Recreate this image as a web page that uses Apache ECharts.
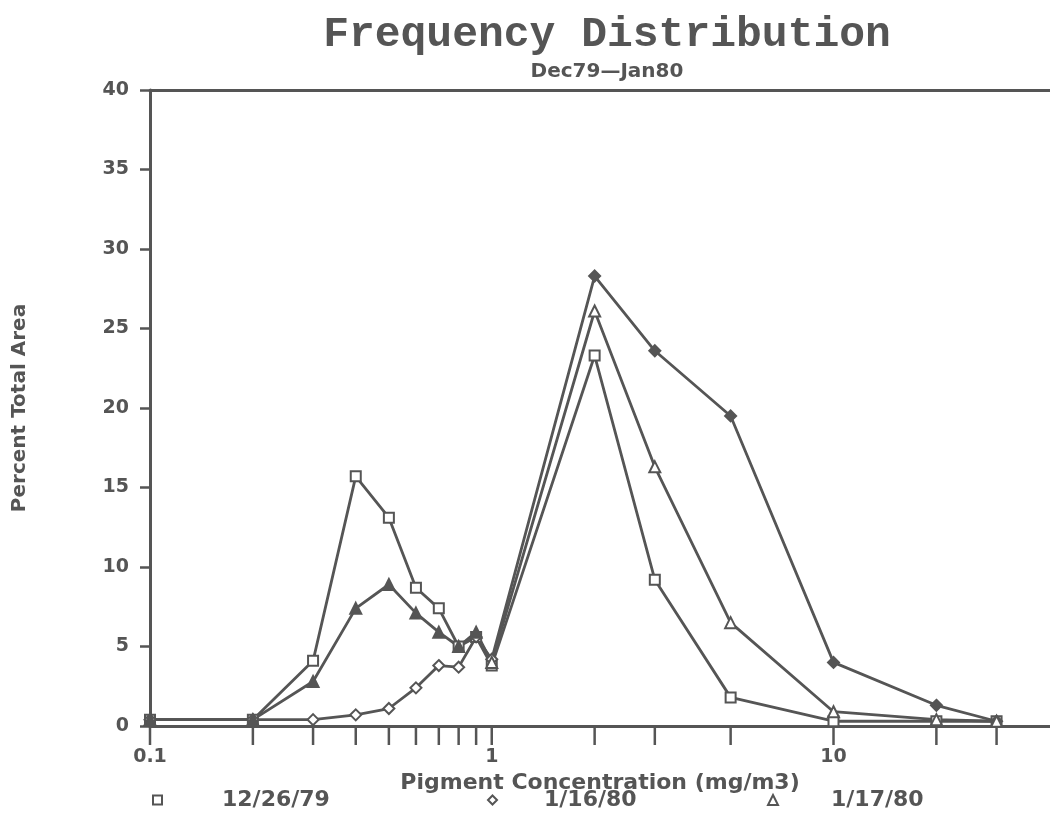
<!DOCTYPE html>
<html>
<head>
<meta charset="utf-8">
<script src="https://cdn.jsdelivr.net/npm/echarts@6/dist/echarts.min.js"></script>
<style>
  html, body { margin: 0; padding: 0; background: #ffffff; }
  #chart { width: 1050px; height: 836px; }
</style>
</head>
<body>
<div id="chart"></div>
<script>
// Pigment concentration bins (mg/m3) and percent of total area per survey date
const concentrations = [0.1, 0.2, 0.3, 0.4, 0.5, 0.6, 0.7, 0.8, 0.9, 1, 2, 3, 5, 10, 20, 30];
const dec26 = [0.4, 0.4, 4.1, 15.7, 13.1, 8.7, 7.4, 5.0, 5.6, 3.8, 23.3, 9.2, 1.8, 0.3, 0.3, 0.3];
const jan16 = [0.4, 0.4, 0.4, 0.7, 1.1, 2.4, 3.8, 3.7, 5.6, 4.2, 28.3, 23.6, 19.5, 4.0, 1.3, 0.3];
const jan17 = [0.4, 0.4, 2.8, 7.4, 8.9, 7.1, 5.9, 5.0, 5.9, 4.0, 26.1, 16.3, 6.5, 0.9, 0.4, 0.3];
const seriesNames = ['12/26/79', '1/16/80', '1/17/80'];

// Axis ticks
const xTickValues = [0.1, 0.2, 0.3, 0.4, 0.5, 0.6, 0.7, 0.8, 0.9, 1, 2, 3, 5, 10, 20, 30];
const xLabelValues = [0.1, 1, 10];
const yMin = 0, yMax = 40, yStep = 5;

const INK = '#555555';
const LABEL_FONT = '"DejaVu Sans", sans-serif';

const chart = echarts.init(document.getElementById('chart'), null, { renderer: 'canvas' });

// Build point data; marker fill varies by concentration range
function points(values, fillRule) {
  return concentrations.map((c, i) => ({
    value: [c, values[i]],
    itemStyle: { color: fillRule(c) ? INK : '#ffffff', borderColor: INK, borderWidth: 2 }
  }));
}

function lineSeries(name, values, symbol, size, fillRule) {
  return {
    name: name,
    type: 'line',
    data: points(values, fillRule),
    symbol: symbol,
    symbolSize: size,
    showAllSymbol: true,
    lineStyle: { color: INK, width: 2.8 },
    itemStyle: { color: '#ffffff', borderColor: INK, borderWidth: 2 },
    emphasis: { disabled: true },
    animation: false
  };
}

function legendAt(name, icon, size, left, textPad) {
  return {
    data: [{ name: name, icon: icon }],
    left: left,
    top: 784,
    itemWidth: size,
    itemHeight: size,
    selectedMode: false,
    itemStyle: { color: '#ffffff', borderColor: INK, borderWidth: 2 },
    lineStyle: { opacity: 0 },
    textStyle: {
      color: INK, fontFamily: LABEL_FONT, fontWeight: 'bold', fontSize: 22,
      padding: [0, 0, 0, textPad]
    }
  };
}

const option = {
  backgroundColor: '#ffffff',
  animation: false,
  graphic: [
    {
      type: 'text', x: 607, y: 35,
      style: {
        text: 'Frequency Distribution', fill: INK,
        font: 'bold 43px "Liberation Mono", monospace',
        textAlign: 'center', textVerticalAlign: 'middle'
      }
    },
    {
      type: 'text', x: 607, y: 72,
      style: {
        text: 'Dec79\u2014Jan80', fill: INK,
        font: 'bold 20px "DejaVu Sans", sans-serif',
        textAlign: 'center', textVerticalAlign: 'middle'
      }
    }
  ],
  legend: [
    legendAt(seriesNames[0], 'rect', 9, 147, 55),
    legendAt(seriesNames[1], 'diamond', 9, 482, 42),
    legendAt(seriesNames[2], 'triangle', 10, 762, 48)
  ],
  grid: { left: 150, right: 0, top: 90, bottom: 110, containLabel: false, outerBoundsMode: 'none' },
  xAxis: [
    {
      type: 'log',
      logBase: 10,
      min: 0.1,
      max: 43,
      name: 'Pigment Concentration (mg/m3)',
      nameLocation: 'middle',
      nameGap: 46,
      nameTextStyle: { color: INK, fontFamily: LABEL_FONT, fontWeight: 'bold', fontSize: 22 },
      axisLine: { show: true, lineStyle: { color: INK, width: 3 } },
      axisTick: { show: false },
      splitLine: { show: false },
      axisLabel: {
        margin: 22,
        color: INK, fontFamily: LABEL_FONT, fontWeight: 'bold', fontSize: 19,
        showMaxLabel: false,
        formatter: function (v) {
          const hit = xLabelValues.find(t => Math.abs(Math.log10(t) - Math.log10(v)) < 1e-6);
          return hit === undefined ? '' : String(hit);
        }
      }
    },
    {
      type: 'log',
      logBase: 10,
      min: 0.1,
      max: 43,
      position: 'top',
      axisLine: { show: true, lineStyle: { color: INK, width: 3 } },
      axisTick: { show: false },
      axisLabel: { show: false },
      splitLine: { show: false }
    }
  ],
  yAxis: {
    type: 'value',
    min: yMin,
    max: yMax,
    interval: yStep,
    name: 'Percent Total Area',
    nameLocation: 'middle',
    nameGap: 120,
    nameRotate: 90,
    nameTextStyle: { color: INK, fontFamily: LABEL_FONT, fontWeight: 'bold', fontSize: 20 },
    axisLine: { show: true, lineStyle: { color: INK, width: 3 } },
    axisTick: { show: true, inside: false, length: 10, lineStyle: { color: INK, width: 2.5 } },
    splitLine: { show: false },
    axisLabel: {
      margin: 21,
      color: INK, fontFamily: LABEL_FONT, fontWeight: 'bold', fontSize: 19
    }
  },
  series: [
    // Tick marks below the concentration axis
    {
      type: 'custom',
      silent: true,
      clip: false,
      z: 1,
      data: xTickValues.map(v => [v, 0]),
      encode: { x: 0, y: 1 },
      renderItem: function (params, api) {
        const p = api.coord([api.value(0), 0]);
        return {
          type: 'line',
          shape: { x1: p[0], y1: p[1], x2: p[0], y2: p[1] + 19 },
          style: { stroke: INK, lineWidth: 2.5 }
        };
      }
    },
    lineSeries(seriesNames[0], dec26, 'rect', 10, c => false),
    lineSeries(seriesNames[1], jan16, 'diamond', 11, c => c >= 2),
    lineSeries(seriesNames[2], jan17, 'triangle', 11, c => c < 1)
  ]
};

chart.setOption(option);
</script>
</body>
</html>
